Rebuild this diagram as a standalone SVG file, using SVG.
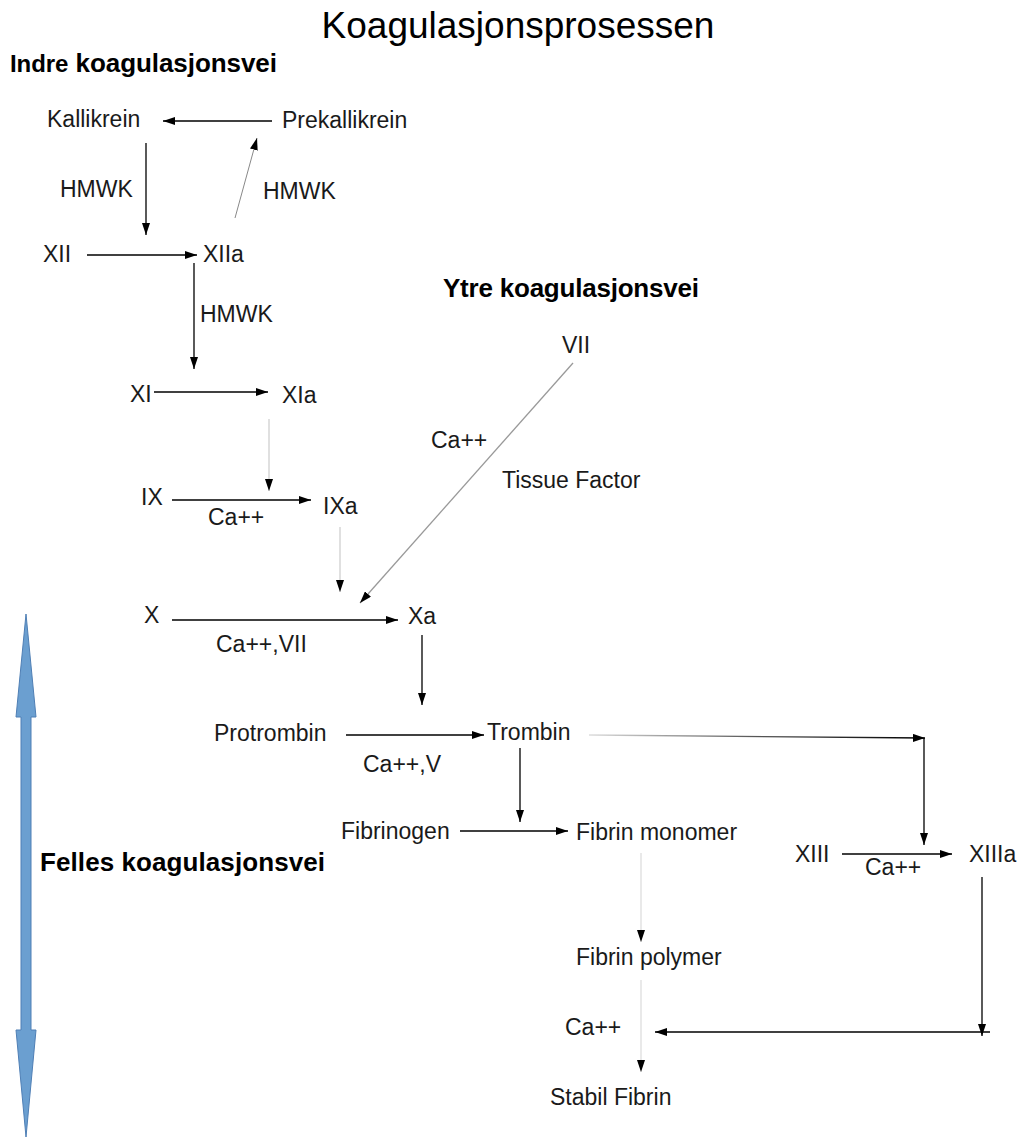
<svg xmlns="http://www.w3.org/2000/svg" width="1023" height="1137" viewBox="0 0 1023 1137">
<defs>
<style>
.t{font-family:"Liberation Sans",Arial,sans-serif;font-size:23px;fill:#1a1a1a}
.b{font-family:"Liberation Sans",Arial,sans-serif;font-size:26px;font-weight:bold;fill:#000}
.title{font-family:"Liberation Sans",Arial,sans-serif;font-size:37px;fill:#000}
.c{fill:none;stroke:#000;stroke-width:1.3}
.g1{stroke:#888;stroke-width:1}
.g2{stroke:#ccc;stroke-width:1.2}
.g3{stroke:#999;stroke-width:1.3}
.g4{stroke:#e2e2e2;stroke-width:1.5}
</style>
<marker id="ah" viewBox="0 0 12 8" refX="12" refY="4" markerWidth="12" markerHeight="8" orient="auto" markerUnits="userSpaceOnUse">
<path d="M0,0 L12,4 L0,8 z" fill="#000"/>
</marker>
<linearGradient id="fade" x1="589" y1="0" x2="925" y2="0" gradientUnits="userSpaceOnUse">
<stop offset="0" stop-color="#ddd"/>
<stop offset="0.5" stop-color="#555"/>
<stop offset="1" stop-color="#000"/>
</linearGradient>
</defs>
<rect width="1023" height="1137" fill="#fff"/>
<text class="title" x="518" y="38" text-anchor="middle">Koagulasjonsprosessen</text>
<g id="blue-arrow">
<polygon points="26,614 36,717 31,717 31,1030 36,1030 26,1137 16,1030 21,1030 21,717 16,717" fill="#6b9fd0" stroke="#4f7fb5" stroke-width="1"/>
</g>
<g id="connectors">
<path class="c" d="M272,121 L163,121" marker-end="url(#ah)"/>
<path class="c" d="M146,143 L146,235" marker-end="url(#ah)"/>
<path class="c g1" d="M235,218 L257,138" marker-end="url(#ah)"/>
<path class="c" d="M87,255 L197,255" marker-end="url(#ah)"/>
<path class="c" d="M194,263 L194,369" marker-end="url(#ah)"/>
<path class="c" d="M154,392 L268,392" marker-end="url(#ah)"/>
<path class="c g2" d="M269,419 L269,491" marker-end="url(#ah)"/>
<path class="c" d="M172,500 L311,500" marker-end="url(#ah)"/>
<path class="c g2" d="M340,527 L340,592" marker-end="url(#ah)"/>
<path class="c g3" d="M573,363 L360,603" marker-end="url(#ah)"/>
<path class="c" d="M172,620 L398,620" marker-end="url(#ah)"/>
<path class="c" d="M422,635 L422,705" marker-end="url(#ah)"/>
<path class="c" d="M346,735 L484,735" marker-end="url(#ah)"/>
<path class="c" d="M520,748 L520,822" marker-end="url(#ah)"/>
<path d="M589,735 L925,738" fill="none" stroke="url(#fade)" stroke-width="1.3" marker-end="url(#ah)"/>
<path class="c" d="M924,738 L924,845" marker-end="url(#ah)"/>
<path class="c" d="M460,831 L568,831" marker-end="url(#ah)"/>
<path class="c" d="M842,854 L952,854" marker-end="url(#ah)"/>
<path class="c g4" d="M641,853 L641,942" marker-end="url(#ah)"/>
<path class="c" d="M982,877 L982,1036" marker-end="url(#ah)"/>
<path class="c" d="M990,1032 L655,1032" marker-end="url(#ah)"/>
<path class="c g4" d="M641,980 L641,1072" marker-end="url(#ah)"/>
</g>
<g id="labels-headers">
<text class="b" x="10" y="72" textLength="267" lengthAdjust="spacing"><tspan font-size="24">Indre</tspan> koagulasjonsvei</text>
<text class="b" x="443" y="297" textLength="256" lengthAdjust="spacing">Ytre koagulasjonsvei</text>
<text class="b" x="40" y="871" textLength="285" lengthAdjust="spacing">Felles koagulasjonsvei</text>
</g>
<g id="n-kallikrein"><text class="t" x="47" y="127">Kallikrein</text></g>
<g id="n-prekallikrein"><text class="t" x="282" y="128">Prekallikrein</text></g>
<g id="l-hmwk1"><text class="t" x="60" y="197">HMWK</text></g>
<g id="l-hmwk2"><text class="t" x="263" y="199">HMWK</text></g>
<g id="n-xii"><text class="t" x="43" y="262">XII</text></g>
<g id="n-xiia"><text class="t" x="203" y="262">XIIa</text></g>
<g id="l-hmwk3"><text class="t" x="200" y="322">HMWK</text></g>
<g id="n-xi"><text class="t" x="130" y="402">XI</text></g>
<g id="n-xia"><text class="t" x="282" y="403">XIa</text></g>
<g id="n-ix"><text class="t" x="141" y="505">IX</text></g>
<g id="l-ca1"><text class="t" x="208" y="525">Ca++</text></g>
<g id="n-ixa"><text class="t" x="323" y="514">IXa</text></g>
<g id="n-vii"><text class="t" x="562" y="353">VII</text></g>
<g id="l-ca2"><text class="t" x="431" y="448">Ca++</text></g>
<g id="l-tf"><text class="t" x="502" y="488">Tissue Factor</text></g>
<g id="n-x"><text class="t" x="144" y="623">X</text></g>
<g id="n-xa"><text class="t" x="408" y="624">Xa</text></g>
<g id="l-ca3"><text class="t" x="216" y="652">Ca++,VII</text></g>
<g id="n-protrombin"><text class="t" x="214" y="741">Protrombin</text></g>
<g id="n-trombin"><text class="t" x="487" y="740">Trombin</text></g>
<g id="l-ca4"><text class="t" x="363" y="772">Ca++,V</text></g>
<g id="n-fibrinogen"><text class="t" x="341" y="839">Fibrinogen</text></g>
<g id="n-fibrinmono"><text class="t" x="576" y="840">Fibrin monomer</text></g>
<g id="n-xiii"><text class="t" x="795" y="862">XIII</text></g>
<g id="l-ca5"><text class="t" x="865" y="875">Ca++</text></g>
<g id="n-xiiia"><text class="t" x="969" y="862">XIIIa</text></g>
<g id="n-fibrinpoly"><text class="t" x="576" y="965">Fibrin polymer</text></g>
<g id="l-ca6"><text class="t" x="565" y="1035">Ca++</text></g>
<g id="n-stabil"><text class="t" x="550" y="1105">Stabil Fibrin</text></g>
</svg>
